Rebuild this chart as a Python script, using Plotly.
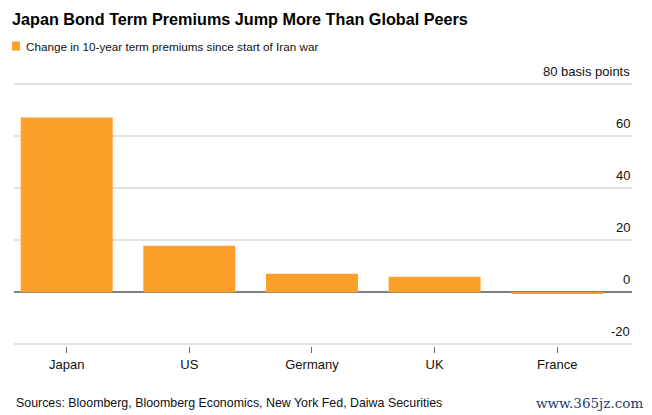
import plotly.graph_objects as go

countries = ["Japan", "US", "Germany", "UK", "France"]
change_bp = [67.0, 17.8, 7.1, 5.9, -0.7]

tick_vals = [-20, 0, 20, 40, 60, 80]
tick_text = ["-20", "0", "20", "40", "60", "80 basis points"]

orange = "#FDA02B"

fig = go.Figure()
fig.add_trace(go.Bar(
    x=countries, y=change_bp, marker_color=orange, marker_line_width=0,
    width=0.75, name="Change in 10-year term premiums since start of Iran war",
))

fig.update_layout(
    width=652, height=415,
    margin=dict(l=14, r=20, t=82, b=69),
    paper_bgcolor="white", plot_bgcolor="white",
    font=dict(family="Liberation Sans, Arial, sans-serif", color="#111", size=13),
    showlegend=False,
    title=dict(
        text="<b>Japan Bond Term Premiums Jump More Than Global Peers</b>",
        x=12 / 652, xanchor="left", y=1 - 19 / 415, yanchor="middle",
        font=dict(size=16.2, color="#000"),
    ),
)

fig.update_xaxes(
    range=[-0.43, 4.61], showgrid=False, zeroline=False, automargin=False,
    ticks="outside", ticklen=6, tickwidth=1.3, tickcolor="#666",
    tickfont=dict(size=13, color="#111"), showline=False,
)
fig.update_yaxes(
    range=[-20.6, 80.6], tickvals=tick_vals, showticklabels=False, ticks="",
    automargin=False,
    showgrid=True, gridcolor="#e2e2e2", gridwidth=1.5,
    zeroline=True, zerolinecolor="#808080", zerolinewidth=2,
)

# y tick labels above their gridlines, right-aligned at the plot edge
for v, t in zip(tick_vals, tick_text):
    fig.add_annotation(text=t, xref="paper", yref="y", x=1, y=v,
                       xanchor="right", yanchor="bottom", yshift=3,
                       showarrow=False, font=dict(size=13, color="#111"))

# legend swatch and text
fig.add_shape(type="rect", xref="paper", yref="paper",
              x0=-2 / 618, x1=6 / 618, y0=1 + (83 - 52) / 261, y1=1 + (83 - 43) / 261,
              fillcolor=orange, line_width=0)
fig.add_annotation(text="Change in 10-year term premiums since start of Iran war",
                   xref="paper", yref="paper", x=10 / 618, y=1 + (83 - 47.5) / 261,
                   xanchor="left", yanchor="middle", showarrow=False,
                   font=dict(size=11.7, color="#111"))

# source line
fig.add_annotation(text="Sources: Bloomberg, Bloomberg Economics, New York Fed, Daiwa Securities",
                   xref="paper", yref="paper", x=0, y=-(400 - 344) / 261,
                   xanchor="left", yanchor="middle", showarrow=False,
                   font=dict(size=12.4, color="#111"))

# watermark
fig.add_annotation(text="www.365jz.com", xref="paper", yref="paper",
                   x=(645 - 14) / 618, y=-(400 - 344) / 261,
                   xanchor="right", yanchor="middle", showarrow=False,
                   font=dict(family="DejaVu Serif, serif", size=13.5, color="#1f3b70"))

# drop the browser's default page margin so the figure sits at the top-left
fig.write_html("out.html", config={"displayModeBar": False},
               post_script="document.body.style.margin='0';")
